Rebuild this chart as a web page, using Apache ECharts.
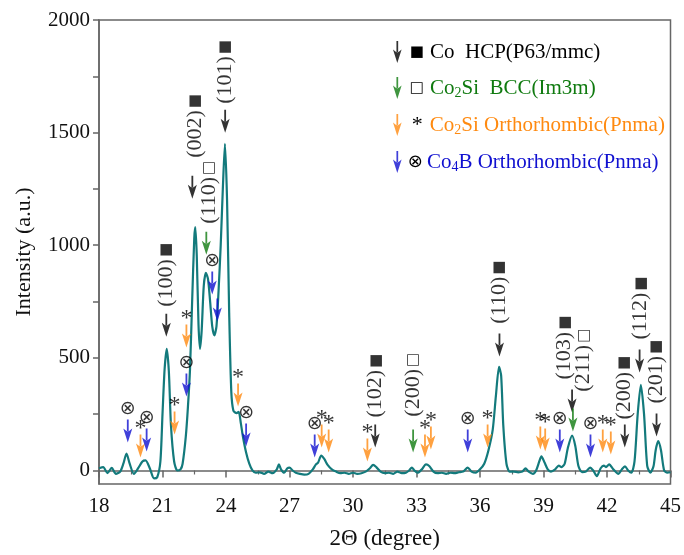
<!DOCTYPE html>
<html>
<head>
<meta charset="utf-8">
<script src="https://cdn.jsdelivr.net/npm/echarts@6/dist/echarts.min.js"></script>
<style>
  html, body { margin: 0; background: #fff; }
  #chart { width: 684px; height: 555px; }
</style>
</head>
<body>
<div id="chart"></div>
<script>
const twoTheta = [
  18.0, 18.2, 18.4, 18.6, 18.8, 19.0, 19.15, 19.3, 19.45, 19.65, 19.85, 20.05, 20.2, 20.4, 20.6, 20.75,
  20.9, 21.0, 21.1, 21.2, 21.3, 21.4, 21.55, 21.7, 21.85, 21.95, 22.1, 22.2, 22.3, 22.4, 22.5, 22.55,
  22.62, 22.7, 22.77, 22.85, 22.95, 23.05, 23.15, 23.25, 23.35, 23.45, 23.55, 23.65, 23.75, 23.85, 23.95, 24.05,
  24.15, 24.25, 24.35, 24.5, 24.6, 24.7, 24.8, 24.95, 25.1, 25.25, 25.4, 25.6, 25.8, 26.0, 26.2, 26.4,
  26.5, 26.6, 26.75, 26.9, 27.0, 27.15, 27.3, 27.5, 27.7, 27.9, 28.1, 28.25, 28.35, 28.5, 28.65, 28.8,
  29.0, 29.2, 29.4, 29.6, 29.8, 30.0, 30.2, 30.4, 30.6, 30.8, 30.95, 31.1, 31.3, 31.5, 31.7, 31.9,
  32.1, 32.3, 32.5, 32.65, 32.78, 32.9, 33.05, 33.25, 33.45, 33.6, 33.8, 34.0, 34.2, 34.4, 34.6, 34.8,
  35.0, 35.2, 35.42, 35.6, 35.8, 36.0, 36.2, 36.4, 36.6, 36.75, 36.9, 37.0, 37.1, 37.25, 37.4, 37.6,
  37.8, 38.0, 38.15, 38.3, 38.5, 38.65, 38.8, 38.9, 39.05, 39.2, 39.35, 39.55, 39.72, 39.85, 40.0, 40.15,
  40.35, 40.5, 40.65, 40.82, 41.0, 41.2, 41.35, 41.52, 41.7, 41.85, 41.95, 42.1, 42.3, 42.54, 42.7, 42.85,
  43.0, 43.15, 43.3, 43.45, 43.6, 43.75, 43.9, 44.05, 44.2, 44.3, 44.42, 44.55, 44.7, 44.85, 45.0
];
const intensity = [
  10, 15, -12, 12, -15, -5, 30, 75, 30, -15, 10, 40, 45, 10, -35, -30,
  40, 250, 450, 540, 440, 200, 40, 0, 5, 30, 150, 280, 450, 750, 1030, 1080,
  950, 650, 540, 620, 820, 877, 850, 750, 640, 600, 640, 800, 1000, 1250, 1450, 1200,
  700, 350, 265, 255, 260, 210, 150, 80, 30, 0, -10, -8, -15, -5, -12, 5,
  27, 5, -10, 10, 13, 0, -10, -15, -18, -15, 5, 27, 35, 66, 50, 25,
  5, -5, -12, -10, -15, -10, -15, -12, -5, 10, 25, 15, -5, -12, -10, -15,
  -5, -12, -10, 0, 13, 0, -10, 5, 27, 20, -5, -12, -10, -15, -10, -12,
  -8, -5, 13, -5, -10, 5, 30, 90, 180, 330, 460, 420, 200, 30, -5, -5,
  -8, -5, 9, -5, -15, 0, 40, 63, 35, 5, -5, 5, 22, 15, 30, 100,
  155, 110, 20, -7, -5, 13, 0, -25, 10, 22, 15, 27, 5, -15, 5, 18,
  0, -10, 40, 250, 380, 250, 20, -10, 20, 90, 130, 90, 0, -10, -8
];

// arrow tips [2θ, intensity]
const coHcpPeaks = [[21.18, 594], [22.41, 1206], [23.96, 1499], [31.05, 102], [36.92, 506],
  [40.35, 257], [42.84, 102], [43.54, 435], [44.34, 151]];
const co2SiBccPeaks = [[23.07, 958], [32.84, 80], [40.39, 173]];
const co2SiOrthoPeaks = [[19.96, 58], [21.57, 160], [22.13, 546], [24.57, 284], [28.52, 102], [28.85, 80],
  [30.68, 40], [33.4, 58], [33.68, 93], [36.36, 102], [38.85, 93], [39.08, 84], [41.8, 80], [42.18, 71]];
// third value: 1 = marker drawn above the arrow
const co4BPeaks = [[19.36, 124, 1], [20.25, 84, 1], [22.13, 328, 1], [23.35, 781, 1], [23.59, 661, 0],
  [24.95, 106, 1], [28.19, 58, 1], [35.42, 80, 1], [39.77, 80, 1], [41.22, 58, 1]];

// hkl labels: [2θ, intensity at the start of the text]
const hklPositions = [[21.18, 727], [22.53, 1388], [23.96, 1628], [23.21, 1095], [31.07, 235], [32.84, 239],
  [36.92, 652], [40.0, 404], [40.9, 350], [42.79, 226], [43.59, 581], [44.34, 297]];
const hklNames = ['(100)', '(002)', '(101)', '(110)', '(102)', '(200)', '(110)', '(103)', '(211)', '(200)', '(112)', '(201)'];
const hklMarks = ['■', '■', '■', '□', '■', '□', '■', '■', '□', '■', '■', '■'];

const yTicks = [0, 250, 500, 750, 1000, 1250, 1500, 1750, 2000];
const yLabels = [0, 500, 1000, 1500, 2000];

const phaseNames = ['Co HCP(P63/mmc)', 'Co2Si BCC(Im3m)', 'Co2Si Orthorhombic(Pnma)', 'Co4B Orthorhombic(Pnma)'];
const phaseColors = ['#000000', '#0f7a0f', '#ff8a10', '#1010d0'];
const phaseTexts = [
  '{m|■}{k|Co  HCP(P63/mmc)}',
  '{m|□}{g|Co}{gs|2}{g|Si  BCC(Im3m)}',
  '{ms|*}{o|Co}{os|2}{o|Si Orthorhombic(Pnma)}',
  '{mo|⊗}{b|Co}{bs|4}{b|B Orthorhombic(Pnma)}'
];

const arrowPath = 'path://M3.6,0 L5.4,0 L5.4,12 L3.6,12 Z M0,9 L4.5,23 L9,9 L4.5,12.5 Z';
const serif = 'Liberation Serif';

const chart = echarts.init(document.getElementById('chart'));

function arrowSeries(idx, data, mark, markStyle) {
  return {
    name: phaseNames[idx],
    type: 'scatter',
    data: data,
    symbol: arrowPath,
    symbolSize: [9, 23],
    symbolOffset: [0, '-50%'],
    itemStyle: { color: phaseColors[idx] },
    silent: true,
    z: 5,
    label: {
      show: !!mark,
      position: 'top',
      distance: markStyle ? markStyle.distance : 0,
      color: '#000',
      fontFamily: markStyle ? markStyle.fontFamily : serif,
      fontSize: markStyle ? markStyle.fontSize : 20,
      lineHeight: markStyle ? markStyle.lineHeight : 20,
      formatter: function (p) {
        return (p.data.length > 2 && !p.data[2]) ? '' : mark;
      }
    }
  };
}

function sub(color) {
  return { color: color, fontFamily: serif, fontSize: 14, lineHeight: 14, verticalAlign: 'bottom' };
}
function main(color) {
  return { color: color, fontFamily: serif, fontSize: 21, lineHeight: 24 };
}

const option = {
  animation: false,
  grid: { left: 99, right: 10, top: 20, bottom: 70, show: true, borderColor: '#666', borderWidth: 1.5 },
  legend: {
    orient: 'vertical',
    left: 388,
    top: 36,
    itemWidth: 9,
    itemHeight: 22,
    itemGap: 14,
    data: phaseNames.map(function (n) { return { name: n, icon: arrowPath }; }),
    formatter: function (name) { return phaseTexts[phaseNames.indexOf(name)]; },
    textStyle: {
      rich: {
        m: { fontFamily: 'DejaVu Sans', fontSize: 15, color: '#000', padding: [0, 6, 0, 3] },
        ms: { fontFamily: serif, fontSize: 22, color: '#000', padding: [0, 7, 0, 5] },
        mo: { fontFamily: 'DejaVu Sans', fontSize: 18, color: '#000', padding: [0, 4, 0, 1] },
        k: main(phaseColors[0]),
        g: main(phaseColors[1]), gs: sub(phaseColors[1]),
        o: main(phaseColors[2]), os: sub(phaseColors[2]),
        b: main(phaseColors[3]), bs: sub(phaseColors[3])
      }
    }
  },
  xAxis: {
    type: 'value',
    min: 18,
    max: 45,
    interval: 3,
    name: '2Θ (degree)',
    nameLocation: 'middle',
    nameGap: 43,
    nameTextStyle: { fontFamily: serif, fontSize: 23, color: '#111' },
    axisLine: { show: true, lineStyle: { color: '#666', width: 1.5 } },
    axisTick: { show: true, length: 7, lineStyle: { color: '#666', width: 1.5 } },
    minorTick: { show: true, splitNumber: 2, length: 4, lineStyle: { color: '#666', width: 1.2 } },
    axisLabel: { fontFamily: serif, fontSize: 21, color: '#111', margin: 12 },
    splitLine: { show: false }
  },
  yAxis: {
    type: 'value',
    min: -60,
    max: 2000,
    name: 'Intensity (a.u.)',
    nameLocation: 'middle',
    nameGap: 64,
    nameTextStyle: { fontFamily: serif, fontSize: 22, color: '#111' },
    axisLine: { show: true, lineStyle: { color: '#666', width: 1.5 } },
    axisTick: { show: true, length: 6, customValues: yTicks, lineStyle: { color: '#666', width: 1.5 } },
    axisLabel: {
      fontFamily: serif, fontSize: 21, color: '#111', margin: 9, customValues: yLabels,
      formatter: function (v) { return String(v); }
    },
    splitLine: { show: false }
  },
  series: [
    {
      name: 'pattern',
      type: 'line',
      data: twoTheta.map(function (t, i) { return [t, intensity[i]]; }),
      symbol: 'none',
      smooth: 0.25,
      silent: true,
      lineStyle: { color: '#137a7c', width: 2.2 },
      z: 2
    },
    arrowSeries(0, coHcpPeaks, ''),
    arrowSeries(1, co2SiBccPeaks, ''),
    arrowSeries(2, co2SiOrthoPeaks, '*', { fontFamily: serif, fontSize: 24, lineHeight: 16, distance: -2 }),
    arrowSeries(3, co4BPeaks, '⊗', { fontFamily: 'DejaVu Sans', fontSize: 19, lineHeight: 19, distance: 1 }),
    {
      name: 'hkl',
      type: 'scatter',
      data: hklPositions.map(function (p, i) { return { value: p, hkl: hklNames[i], mark: hklMarks[i] }; }),
      symbolSize: 1,
      itemStyle: { color: 'rgba(0,0,0,0)' },
      silent: true,
      z: 6,
      label: {
        show: true,
        position: 'inside',
        rotate: 90,
        align: 'left',
        verticalAlign: 'middle',
        formatter: function (p) { return '{t|' + p.data.hkl + '}{m|' + p.data.mark + '}'; },
        rich: {
          t: { fontFamily: serif, fontSize: 22, color: '#000' },
          m: { fontFamily: 'DejaVu Sans', fontSize: 15, color: '#000', padding: [0, 0, 0, 2] }
        }
      }
    }
  ]
};

chart.setOption(option);
</script>
</body>
</html>
